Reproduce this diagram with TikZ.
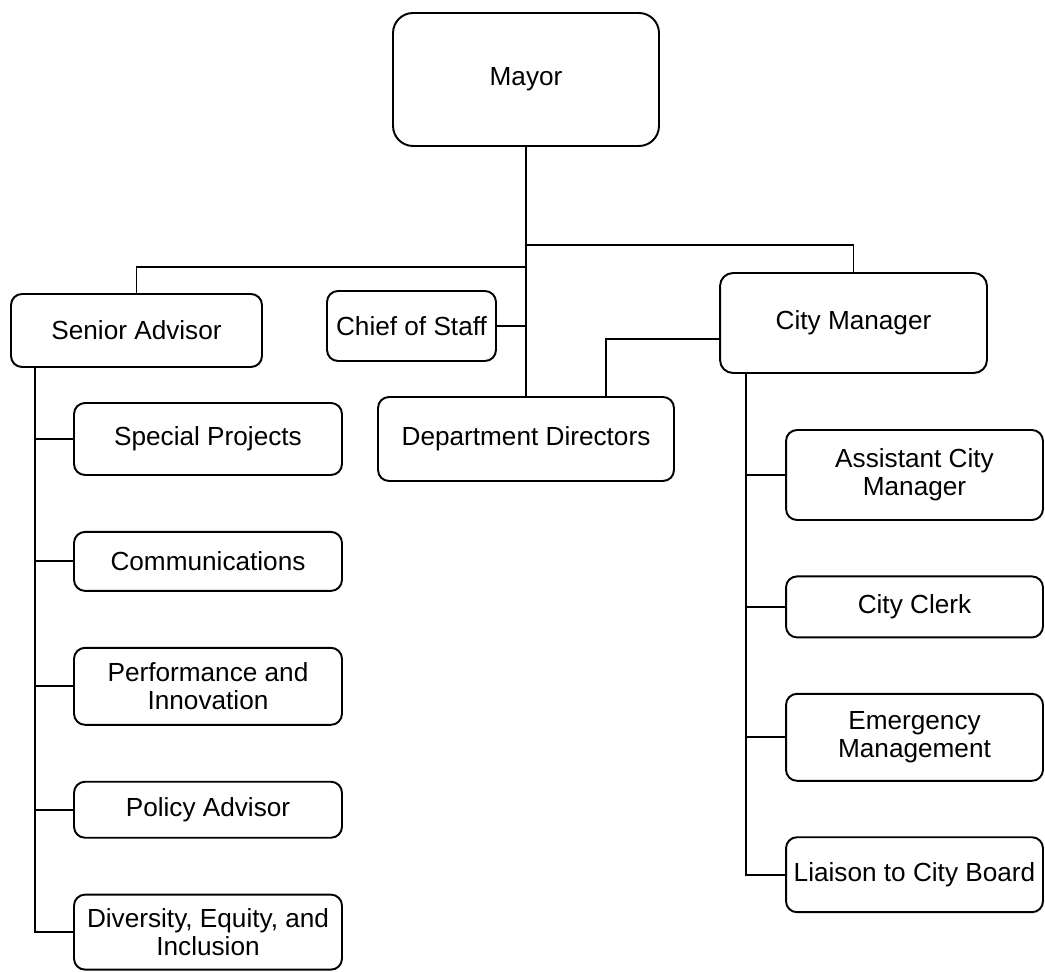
\documentclass[tikz,border=0pt]{standalone}
\usepackage{fontspec}
\setmainfont{Liberation Sans}
\usetikzlibrary{positioning}
\tikzset{
  unit/.style     = {draw, line width=1.1pt, rounded corners=0.22cm, align=center, inner sep=2pt, font=\fontsize{14.9}{15.7}\selectfont},
  topbox/.style   = {unit, rounded corners=0.4cm, minimum width=5.32cm, minimum height=2.66cm},
  leftbox/.style  = {unit, minimum width=5.36cm},
  rightbox/.style = {unit, minimum width=5.14cm},
  link/.style     = {line width=1.1pt}
}

\begin{document}
\begin{tikzpicture}[x=0.02cm, y=-0.02cm]
  \useasboundingbox (0,0) rectangle (1045,972);
  \node[topbox]                                             (mayor)   at (526,79.5)   {Mayor};
  \node[unit, minimum width=5.02cm, minimum height=1.46cm]  (senior)  at (136.5,330.5) {Senior Advisor};
  \node[unit, minimum width=3.38cm, minimum height=1.40cm]  (chief)   at (411.5,326)  {Chief of Staff};
  \node[unit, minimum width=5.92cm, minimum height=1.68cm]  (dirs)    at (526,439)    {Department Directors};
  \node[unit, minimum width=5.34cm, minimum height=2cm, rounded corners=0.26cm] (cityman) at (853.5,323) {City Manager};

  \node[leftbox, minimum height=1.44cm]                           (projects) at (208,439) {Special Projects};
  \node[leftbox, minimum height=1.18cm, below=1.10cm of projects] (comms)  {Communications};
  \node[leftbox, minimum height=1.54cm, below=1.10cm of comms]    (perf)   {Performance and\\Innovation};
  \node[leftbox, minimum height=1.12cm, below=1.10cm of perf]     (policy) {Policy Advisor};
  \node[leftbox, minimum height=1.50cm, below=1.10cm of policy]   (dei)    {Diversity, Equity, and\\Inclusion};

  \node[rightbox, minimum height=1.80cm]                            (assistant) at (914.5,475) {Assistant City\\Manager};
  \node[rightbox, minimum height=1.22cm, below=1.09cm of assistant] (clerk)     {City Clerk};
  \node[rightbox, minimum height=1.74cm, below=1.09cm of clerk]     (emergency) {Emergency\\Management};
  \node[rightbox, minimum height=1.50cm, below=1.09cm of emergency] (liaison)   {Liaison to City Board};

  \coordinate (rbr) at ([yshift=-1.96cm]mayor.south);
  \coordinate (lbr) at ([yshift=-2.40cm]mayor.south);
  \draw[link] (mayor.south) -- (dirs.north);
  \draw[link] (rbr) -| (cityman.north);
  \draw[link] (lbr) -| (senior.north);
  \draw[link] (chief.east) -- (chief.east -| dirs.north);
  \draw[link] ([yshift=-0.32cm]cityman.west) -| ([xshift=1.6cm]dirs.north);

  \coordinate (sbus) at ([xshift=0.5cm]senior.south west);
  \draw[link] (sbus) |- (dei.west);
  \foreach \n in {projects,comms,perf,policy}
    \draw[link] (sbus |- \n.west) -- (\n.west);

  \coordinate (cbus) at ([xshift=0.53cm]cityman.south west);
  \draw[link] (cbus) |- (liaison.west);
  \foreach \n in {assistant,clerk,emergency}
    \draw[link] (cbus |- \n.west) -- (\n.west);
\end{tikzpicture}
\end{document}
